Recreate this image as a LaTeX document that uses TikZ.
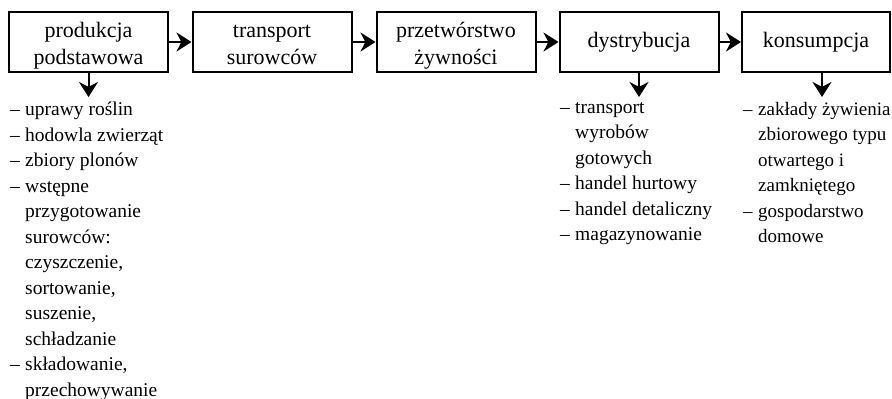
\documentclass[tikz,border=0pt]{standalone}
\usepackage{fontspec}
\setmainfont{Liberation Serif}
\usetikzlibrary{arrows.meta}
\newcommand\lsitem{\makebox[15pt][l]{–}}
\newcommand\lscont{\hspace*{15pt}}
\newcommand\bxtop{\rule{0pt}{23pt}}
\newcommand\bxbot{\rule[-5pt]{0pt}{5pt}}
\begin{document}
\begin{tikzpicture}[x=1pt,y=-1pt,
  stage/.style={draw, line width=2pt, minimum width=159pt, minimum height=60pt, inner sep=0pt, align=center, font=\fontsize{22}{26.5}\selectfont},
  flow/.style={line width=2pt, -{Stealth[length=15pt,width=19pt]}},
  lst/.style={anchor=north west, inner sep=0pt, align=left, font=\fontsize{19.5}{25.5}\selectfont}]
\useasboundingbox[fill=white] (0,0) rectangle (892,399);
\node[stage] (b1) at (88.5,42) {\bxtop produkcja\\podstawowa\bxbot};
\node[stage] (b2) at (272,42) {\bxtop transport\\surowców\bxbot};
\node[stage] (b3) at (456,42) {\bxtop przetwórstwo\\żywności\bxbot};
\node[stage] (b4) at (639,42) {dystrybucja};
\node[stage, minimum width=148pt] (b5) at (816,42) {konsumpcja};
\foreach \a/\b in {b1/b2,b2/b3,b3/b4,b4/b5} \draw[flow] (\a) -- (\b);
\coordinate (t1) at (88.5,97);
\coordinate (t4) at (639,97);
\coordinate (t5) at (822,97);
\draw[flow] (b1) -- (t1);
\draw[flow] (b4) -- (t4);
\draw[flow] (b5.south -| t5) -- (t5);
\node[lst] (l1) at (10,102) {\lsitem uprawy roślin\\
\lsitem hodowla zwierząt\\
\lsitem zbiory plonów\\
\lsitem wstępne\\
\lscont przygotowanie\\
\lscont surowców:\\
\lscont czyszczenie,\\
\lscont sortowanie,\\
\lscont suszenie,\\
\lscont schładzanie\\
\lsitem składowanie,\\
\lscont przechowywanie};
\node[lst] (l4) at (560,102) {\lsitem transport\\
\lscont wyrobów\\
\lscont gotowych\\
\lsitem handel hurtowy\\
\lsitem handel detaliczny\\
\lsitem magazynowanie};
\node[lst, font=\fontsize{19}{25.5}\selectfont] (l5) at (743,102) {\lsitem zakłady żywienia\\
\lscont zbiorowego typu\\
\lscont otwartego i\\
\lscont zamkniętego\\
\lsitem gospodarstwo\\
\lscont domowe};
\end{tikzpicture}
\end{document}
